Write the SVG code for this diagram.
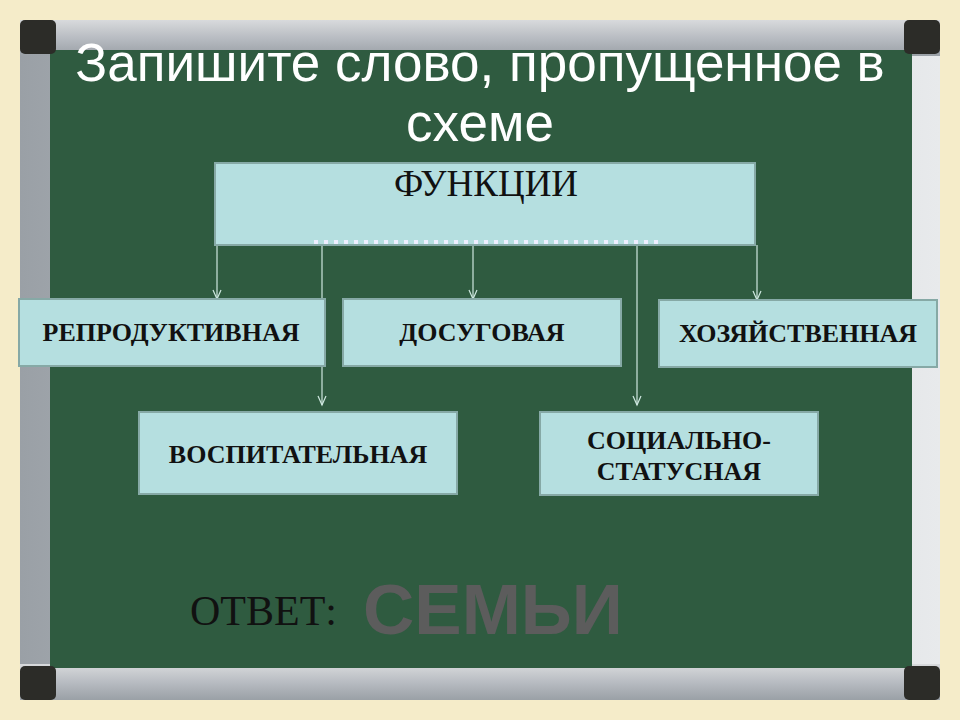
<svg xmlns="http://www.w3.org/2000/svg" width="960" height="720" viewBox="0 0 960 720">
<defs>
<marker id="ar" markerWidth="12" markerHeight="12" refX="10" refY="5" orient="auto" markerUnits="userSpaceOnUse"><path d="M1,1 L10,5 L1,9" fill="none" stroke="#cfe8e0" stroke-width="1.2"/></marker>
<linearGradient id="fh" x1="0" y1="0" x2="0" y2="1"><stop offset="0" stop-color="#d8dadc"/><stop offset="0.5" stop-color="#b8bcc2"/><stop offset="1" stop-color="#9aa0a6"/></linearGradient>
<linearGradient id="fv" x1="0" y1="0" x2="1" y2="0"><stop offset="0" stop-color="#9aa0a6"/><stop offset="0.5" stop-color="#c8ccd0"/><stop offset="1" stop-color="#e8eaec"/></linearGradient>
</defs>
<style>
.box{fill:#b5dfe0;stroke:#86a9a6;stroke-width:2}
.lb{font-family:"Liberation Serif",serif;font-weight:bold;font-size:26px;fill:#111;text-anchor:middle}
.cn{stroke:#cfe8e0;stroke-width:1.2;fill:none}
</style>
<rect width="960" height="720" fill="#f5ecc9"/>
<rect x="20" y="20" width="920" height="680" fill="url(#fv)"/>
<rect x="20" y="20" width="920" height="36" fill="url(#fh)"/>
<rect x="20" y="664" width="920" height="36" fill="url(#fh)"/>
<rect x="50" y="50" width="862" height="618" fill="#2f5b40"/>
<rect x="20" y="20" width="36" height="34" rx="5" fill="#2c2c28"/>
<rect x="904" y="20" width="36" height="34" rx="5" fill="#2c2c28"/>
<rect x="20" y="666" width="36" height="34" rx="5" fill="#2c2c28"/>
<rect x="904" y="666" width="36" height="34" rx="5" fill="#2c2c28"/>
<g font-family="Liberation Sans,Arial,sans-serif" font-size="53" fill="#fff" text-anchor="middle">
<text x="480" y="81">Запишите слово, пропущенное в</text>
<text x="480" y="141">схеме</text>
</g>
<g id="connectors">
<line class="cn" x1="217" y1="245" x2="217" y2="299" marker-end="url(#ar)"/>
<line class="cn" x1="322" y1="245" x2="322" y2="405" marker-end="url(#ar)"/>
<line class="cn" x1="473" y1="245" x2="473" y2="299" marker-end="url(#ar)"/>
<line class="cn" x1="637" y1="245" x2="637" y2="405" marker-end="url(#ar)"/>
<line class="cn" x1="757" y1="245" x2="757" y2="300" marker-end="url(#ar)"/>
</g>
<g id="n-func"><rect class="box" x="215" y="163" width="540" height="82"/>
<text x="486" y="196" font-family="Liberation Serif,serif" font-size="37" fill="#111" text-anchor="middle">ФУНКЦИИ</text>
<line x1="314" y1="242" x2="660" y2="242" stroke="#eef" stroke-width="4" stroke-dasharray="4,6"/></g>
<g id="n-rep"><rect class="box" x="19" y="299" width="306" height="67"/><text class="lb" x="171" y="341">РЕПРОДУКТИВНАЯ</text></g>
<g id="n-dos"><rect class="box" x="343" y="299" width="278" height="67"/><text class="lb" x="482" y="341">ДОСУГОВАЯ</text></g>
<g id="n-hoz"><rect class="box" x="659" y="300" width="278" height="67"/><text class="lb" x="798" y="342">ХОЗЯЙСТВЕННАЯ</text></g>
<g id="n-vos"><rect class="box" x="139" y="412" width="318" height="82"/><text class="lb" x="298" y="463">ВОСПИТАТЕЛЬНАЯ</text></g>
<g id="n-soc"><rect class="box" x="540" y="412" width="278" height="83"/><text class="lb" x="679" y="449">СОЦИАЛЬНО-</text><text class="lb" x="679" y="480">СТАТУСНАЯ</text></g>
<text x="190" y="625" font-family="Liberation Serif,serif" font-size="42" fill="#111">ОТВЕТ:</text>
<text x="363" y="634" font-family="Liberation Sans,Arial,sans-serif" font-weight="bold" font-size="71" fill="#5c5c5c">СЕМЬИ</text>
</svg>
